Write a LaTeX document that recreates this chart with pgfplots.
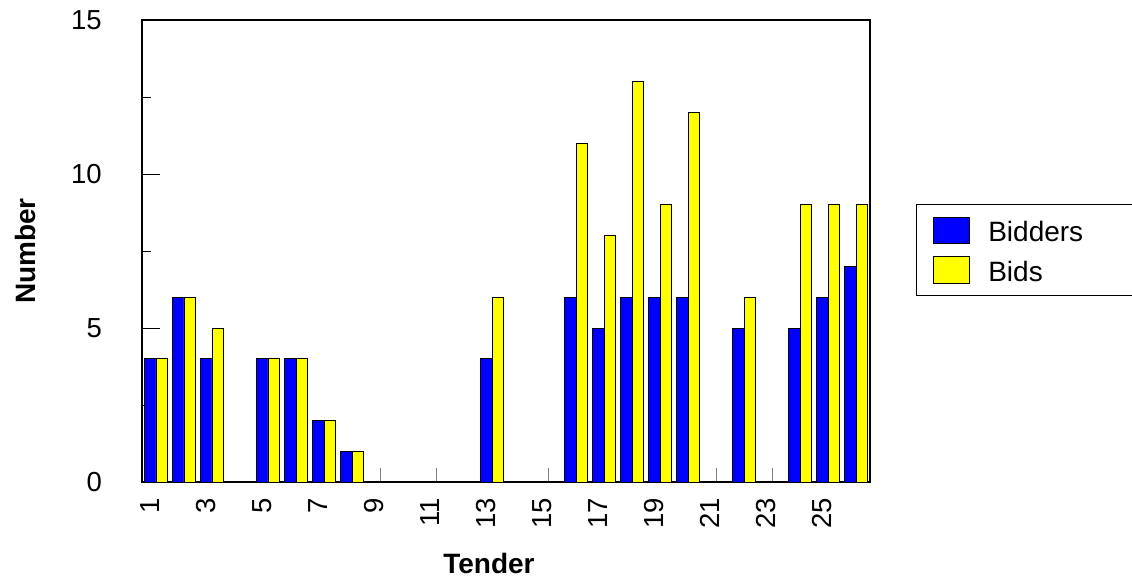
\documentclass[border=0pt]{standalone}
\usepackage{fontspec}
\setmainfont{Liberation Sans}
\usepackage{pgfplots}
\pgfplotsset{compat=1.18}
\definecolor{barblue}{RGB}{0,0,255}
\definecolor{baryellow}{RGB}{255,255,0}
\begin{document}
\begin{tikzpicture}
\path[use as bounding box] (-142pt,-100pt) rectangle (990pt,482pt);
\begin{axis}[
  at={(0pt,0pt)}, anchor=south west,
  scale only axis, width=728pt, height=462pt,
  xmin=0.5, xmax=26.5, ymin=0, ymax=15,
  ybar=0pt, bar width=11.5pt,
  /pgf/number format/assume math mode=true,
  xtick={1,3,...,25},
  ytick={0,5,10,15},
  minor ytick={2.5,7.5,12.5},
  tick align=inside,
  xtick pos=bottom, ytick pos=left,
  major tick length=18pt, minor tick length=9pt,
  xtick style={gray, line width=0.8pt, /pgfplots/major tick length=14pt},
  ytick style={black, line width=0.8pt},
  axis line style={line width=1.2pt},
  tick label style={font=\fontsize{27.5}{32}\selectfont},
  xticklabel style={rotate=90, anchor=east, inner sep=0pt, yshift=6pt},
  xticklabel shift=16pt,
  yticklabel style={anchor=east, inner sep=0pt},
  yticklabel shift=40pt,
  label style={font=\bfseries\fontsize{28}{32}\selectfont},
  xlabel={Tender},
  xlabel style={at={(axis description cs:0.4766,0)}, anchor=center, yshift=-81pt},
  ylabel={Number},
  ylabel style={at={(axis description cs:-0.1607,0.5)}, anchor=center},
  legend style={at={(1.0632,0.6017)}, anchor=north west, draw=black, line width=1pt,
    font=\fontsize{28}{32}\selectfont, inner xsep=16pt, inner ysep=12pt,
    row sep=12.5pt, column sep=19pt, nodes={inner sep=0pt}},
  legend cell align=left,
  legend image code/.code={\draw[#1, line width=0.8pt] (0pt,-11pt) rectangle (36pt,15.5pt);},
]
\addplot[fill=barblue, draw=black, line width=0.8pt] coordinates {
 (1,4) (2,6) (3,4) (5,4) (6,4) (7,2) (8,1) (13,4) (16,6) (17,5) (18,6) (19,6) (20,6) (22,5) (24,5) (25,6) (26,7)
};
\addlegendentry{\makebox[170pt][l]{Bidders}}
\addplot[fill=baryellow, draw=black, line width=0.8pt] coordinates {
 (1,4) (2,6) (3,5) (5,4) (6,4) (7,2) (8,1) (13,6) (16,11) (17,8) (18,13) (19,9) (20,12) (22,6) (24,9) (25,9) (26,9)
};
\addlegendentry{Bids}
\end{axis}
\end{tikzpicture}
\end{document}
